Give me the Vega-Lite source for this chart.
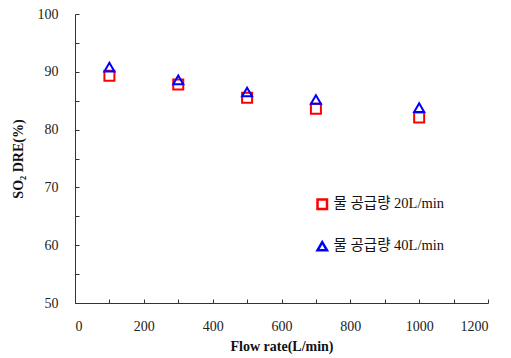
{
  "$schema": "https://vega.github.io/schema/vega-lite/v6.json",
  "autosize": "none",
  "width": 413,
  "height": 289,
  "padding": {"left": 75, "top": 14, "right": 23, "bottom": 55},
  "background": "white",
  "config": {"view": {"stroke": null}},
  "data": {"values": [
    {"flow": 100, "dre": 89.3, "series": "물 공급량 20L/min"},
    {"flow": 300, "dre": 87.8, "series": "물 공급량 20L/min"},
    {"flow": 500, "dre": 85.5, "series": "물 공급량 20L/min"},
    {"flow": 700, "dre": 83.6, "series": "물 공급량 20L/min"},
    {"flow": 1000, "dre": 82.1, "series": "물 공급량 20L/min"},
    {"flow": 100, "dre": 90.8, "series": "물 공급량 40L/min"},
    {"flow": 300, "dre": 88.6, "series": "물 공급량 40L/min"},
    {"flow": 500, "dre": 86.5, "series": "물 공급량 40L/min"},
    {"flow": 700, "dre": 85.2, "series": "물 공급량 40L/min"},
    {"flow": 1000, "dre": 83.8, "series": "물 공급량 40L/min"}
  ]},
  "mark": {"type": "point", "filled": false, "strokeWidth": 2, "size": 100, "opacity": 1},
  "encoding": {
    "x": {"field": "flow", "type": "quantitative",
      "scale": {"domain": [0, 1200], "nice": false},
      "axis": {"title": "Flow  rate(L/min)", "grid": false,
        "values": [0,100,200,300,400,500,600,700,800,900,1000,1100,1200],
        "labelExpr": "datum.value % 200 == 0 ? datum.label : ''",
        "format": "d",
        "domainColor": "#333", "tickColor": "#333", "tickSize": -4,
        "labelFont": "Liberation Serif", "labelFontSize": 14, "labelColor": "#222",
        "labelPadding": 20,
        "titleFont": "Liberation Serif", "titleFontSize": 14, "titleFontWeight": "bold", "titleColor": "#111",
        "titlePadding": 6}},
    "y": {"field": "dre", "type": "quantitative",
      "scale": {"domain": [50, 100], "nice": false, "zero": false},
      "axis": {"title": "SO₂ DRE(%)", "grid": false,
        "values": [50,55,60,65,70,75,80,85,90,95,100],
        "labelExpr": "datum.value % 10 == 0 ? datum.label : ''",
        "domainColor": "#333", "tickColor": "#333", "tickSize": -4,
        "labelFont": "Liberation Serif", "labelFontSize": 14, "labelColor": "#222",
        "labelPadding": 21,
        "titleFont": "Liberation Serif", "titleFontSize": 14, "titleFontWeight": "bold", "titleColor": "#111",
        "titlePadding": 12}},
    "shape": {"field": "series", "type": "nominal",
      "scale": {"range": ["square", "triangle-up"]},
      "legend": {"orient": "none", "legendX": 240, "legendY": 183, "title": null,
        "labelFont": "Liberation Serif, Noto Sans CJK KR", "labelFontSize": 14.5, "labelColor": "#111",
        "rowPadding": 23, "symbolSize": 90, "symbolStrokeWidth": 2.5, "labelOffset": 4}},
    "color": {"field": "series", "type": "nominal",
      "scale": {"range": ["#ff0000", "#0000ff"]},
      "legend": {"orient": "none", "legendX": 240, "legendY": 183, "title": null,
        "labelFont": "Liberation Serif, Noto Sans CJK KR", "labelFontSize": 14.5, "labelColor": "#111",
        "rowPadding": 23, "symbolSize": 90, "symbolStrokeWidth": 2.5, "labelOffset": 4}}
  }
}
